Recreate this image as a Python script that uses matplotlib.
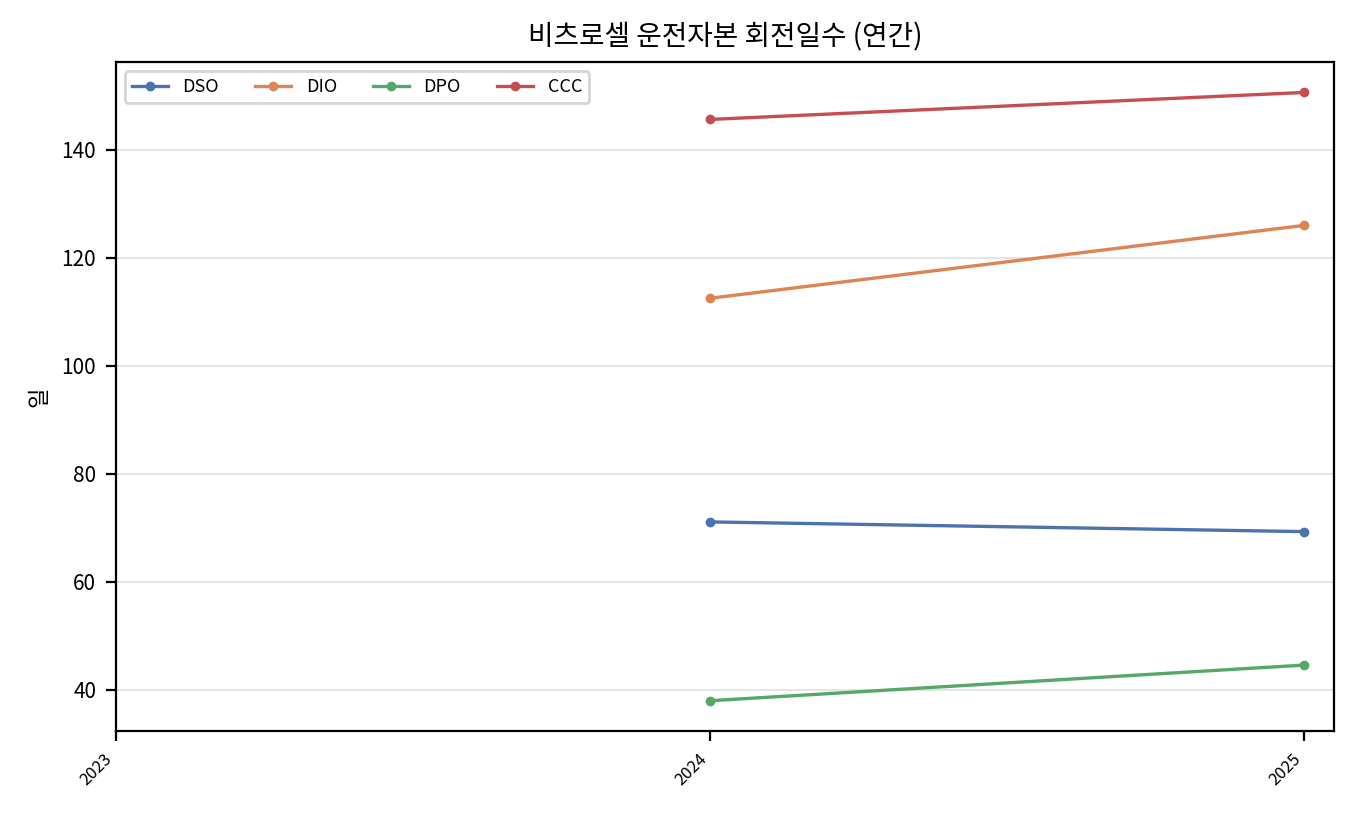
import numpy as np
import matplotlib
matplotlib.use("Agg")
import matplotlib.pyplot as plt

plt.rcParams['font.family'] = ['Noto Sans CJK KR', 'DejaVu Sans']

years = ["2023", "2024", "2025"]
dso = [np.nan, 71.1, 69.3]
dio = [np.nan, 112.5, 126.0]
dpo = [np.nan, 38.0, 44.6]
ccc = [np.nan, 145.6, 150.6]

series = [("DSO", dso, "#4c72b0"), ("DIO", dio, "#dd8452"),
          ("DPO", dpo, "#55a868"), ("CCC", ccc, "#c44e52")]

fig, ax = plt.subplots(figsize=(6.8, 4.08), dpi=200)
x = np.arange(len(years))
for name, vals, color in series:
    ax.plot(x, vals, marker="o", markersize=2.5, linewidth=1.2, color=color, label=name)

ax.set_xticks(x)
ax.set_xticklabels(years, rotation=45, ha="right", fontsize=6)
ax.set_xlim(0, 2.05)
ax.tick_params(axis="y", labelsize=7.5)
ax.set_ylabel("일", fontsize=8)
ax.set_title("비츠로셀 운전자본 회전일수 (연간)", fontsize=10)
ax.grid(axis="y", color="#e0e0e0", linewidth=0.6)
ax.set_axisbelow(True)
ax.legend(loc="upper left", ncol=4, fontsize=6.5, frameon=True)

fig.subplots_adjust(left=0.085, right=0.981, top=0.924, bottom=0.104)
fig.savefig("out.png", dpi=200)
